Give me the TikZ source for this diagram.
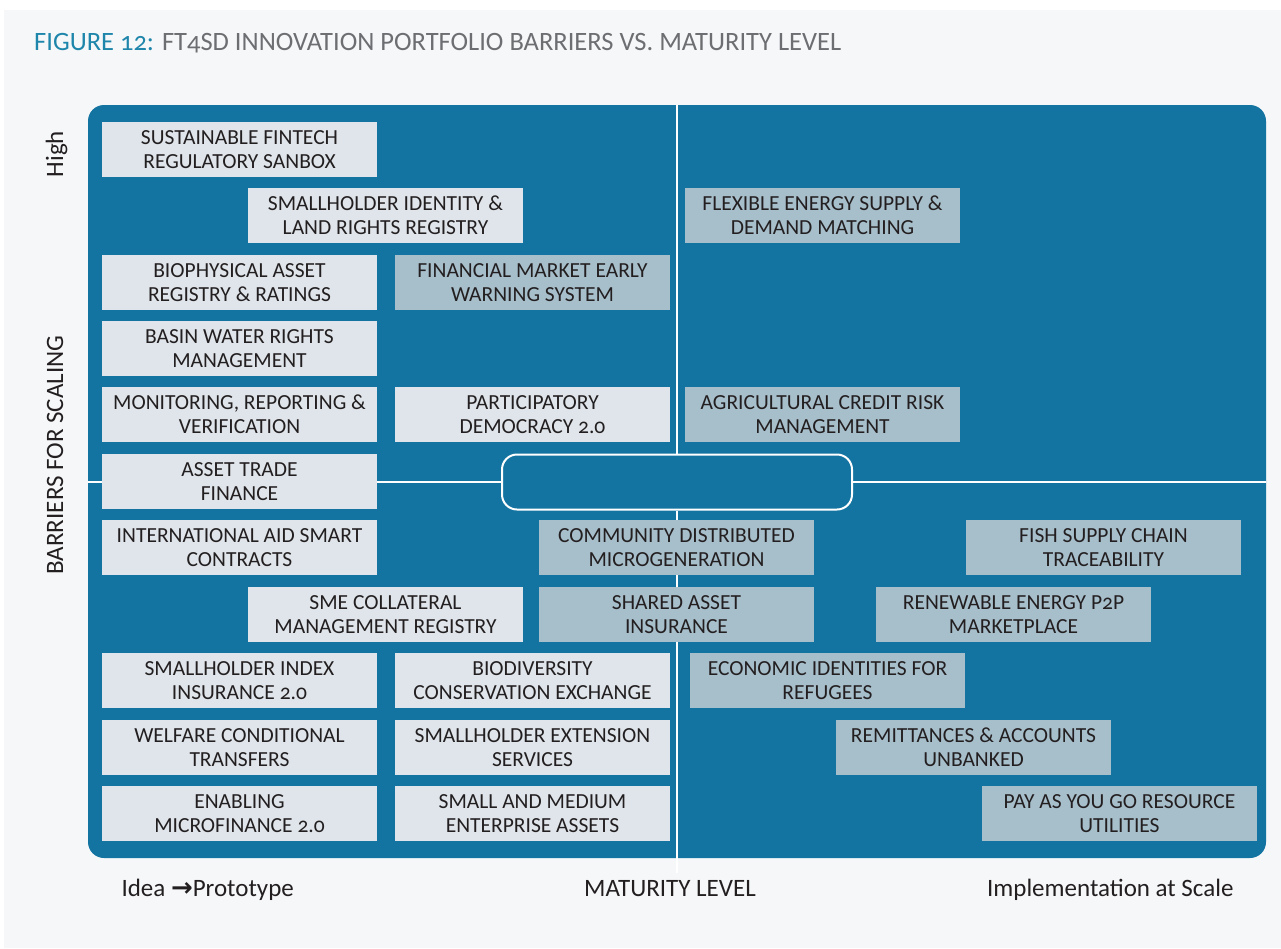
\documentclass[tikz,border=0pt]{standalone}
\usepackage{fontspec}
\setmainfont{Carlito}[Numbers=OldStyle]
\newfontfamily\arrowfont{DejaVu Sans}
\usepackage{tikz}

\definecolor{panel}{HTML}{F6F7F9}
\definecolor{field}{HTML}{1374A1}
\definecolor{pale}{HTML}{DFE5EA}
\definecolor{steel}{HTML}{A7BECB}
\definecolor{ink}{HTML}{231F20}
\definecolor{teal}{HTML}{1F86AB}
\definecolor{slate}{HTML}{6D6E71}

\begin{document}
\begin{tikzpicture}[x=1pt, y=-1pt,
	idea/.style={fill=pale, text=ink, minimum width=275pt, minimum height=55pt, inner sep=0pt,
		align=center, font=\fontsize{21.5}{24.4}\selectfont},
	scaled/.style={idea, fill=steel},
	axis/.style={text=ink, font=\fontsize{25}{28}\selectfont}]
	
	\useasboundingbox (0,0) rectangle (1281,948);
	\fill [panel] (4,10) rectangle (1281,948);
	
	\node [anchor=base west, inner xsep=0pt, font=\fontsize{26.5}{30}\selectfont] (title) at (34,50)
		{\color{teal}FIGURE 12: \color{slate}FT4SD INNOVATION PORTFOLIO BARRIERS VS. MATURITY LEVEL};
	
	\node [fill=field, rounded corners=16pt, minimum width=1178pt, minimum height=753pt, inner sep=0pt] (field) at (677,481.5) {};
	\node [draw=white, line width=2pt, rounded corners=15pt, minimum width=350pt, minimum height=55pt, inner sep=0pt] (core) at (677,482) {};
	\coordinate (foot) at (677,873);
	
	\draw [white, line width=2.5pt] (field.north) -- (core.north);
	\draw [white, line width=2.5pt] (core.south) -- (foot);
	\draw [white, line width=2.5pt] (field.west |- core) -- (core.west);
	\draw [white, line width=2.5pt] (core.east) -- (field.east |- core);
	
	% low maturity
	\node [idea] (sandbox) at (239.5,149.5) {SUSTAINABLE FINTECH\\REGULATORY SANBOX};
	\node [idea] (landreg) at (385.5,215.5) {SMALLHOLDER IDENTITY \&\\LAND RIGHTS REGISTRY};
	\node [idea] (biophys) at (239.5,282.5) {BIOPHYSICAL ASSET\\REGISTRY \& RATINGS};
	\node [scaled] (warning) at (532.5,282.5) {FINANCIAL MARKET EARLY\\WARNING SYSTEM};
	\node [idea] (water) at (239.5,348.5) {BASIN WATER RIGHTS\\MANAGEMENT};
	\node [idea] (mrv) at (239.5,414.5) {MONITORING, REPORTING \&\\VERIFICATION};
	\node [idea] (democracy) at (532.5,414.5) {PARTICIPATORY\\DEMOCRACY 2.0};
	\node [idea] (trade) at (239.5,481.5) {ASSET TRADE\\FINANCE};
	\node [idea] (aid) at (239.5,547.5) {INTERNATIONAL AID SMART\\CONTRACTS};
	\node [idea] (collateral) at (385.5,614.5) {SME COLLATERAL\\MANAGEMENT REGISTRY};
	\node [idea] (index) at (239.5,680.5) {SMALLHOLDER INDEX\\INSURANCE 2.0};
	\node [idea] (biodiv) at (532.5,680.5) {BIODIVERSITY\\CONSERVATION EXCHANGE};
	\node [idea] (welfare) at (239.5,747.5) {WELFARE CONDITIONAL\\TRANSFERS};
	\node [idea] (extension) at (532.5,747.5) {SMALLHOLDER EXTENSION\\SERVICES};
	\node [idea] (micro) at (239.5,813.5) {ENABLING\\MICROFINANCE 2.0};
	\node [idea] (sme) at (532.5,813.5) {SMALL AND MEDIUM\\ENTERPRISE ASSETS};
	
	% high maturity
	\node [scaled] (energy) at (822.5,215.5) {FLEXIBLE ENERGY SUPPLY \&\\DEMAND MATCHING};
	\node [scaled] (credit) at (822.5,414.5) {AGRICULTURAL CREDIT RISK\\MANAGEMENT};
	\node [scaled] (microgen) at (676.5,547.5) {COMMUNITY DISTRIBUTED\\MICROGENERATION};
	\node [scaled] (fish) at (1103.5,547.5) {FISH SUPPLY CHAIN\\TRACEABILITY};
	\node [scaled] (shared) at (676.5,614.5) {SHARED ASSET\\INSURANCE};
	\node [scaled] (ptp) at (1013.5,614.5) {RENEWABLE ENERGY P2P\\MARKETPLACE};
	\node [scaled] (refugees) at (827.5,680.5) {ECONOMIC IDENTITIES FOR\\REFUGEES};
	\node [scaled] (remit) at (973.5,747.5) {REMITTANCES \& ACCOUNTS\\UNBANKED};
	\node [scaled] (payg) at (1119.5,813.5) {PAY AS YOU GO RESOURCE\\UTILITIES};
	
	% axes
	\node [axis, rotate=90, anchor=base] (high) at (63,154) {High};
	\node [axis, rotate=90, anchor=base] (barriers) at (63,455) {BARRIERS FOR SCALING};
	\node [axis, anchor=base west] (idea) at (118,896) {Idea {\arrowfont\bfseries\fontsize{26}{28}\selectfont →}Prototype};
	\node [axis, anchor=base] (maturity) at (670,896) {MATURITY LEVEL};
	\node [axis, anchor=base east] (scale) at (1237,896) {Implementation at Scale};
	
\end{tikzpicture}
\end{document}
